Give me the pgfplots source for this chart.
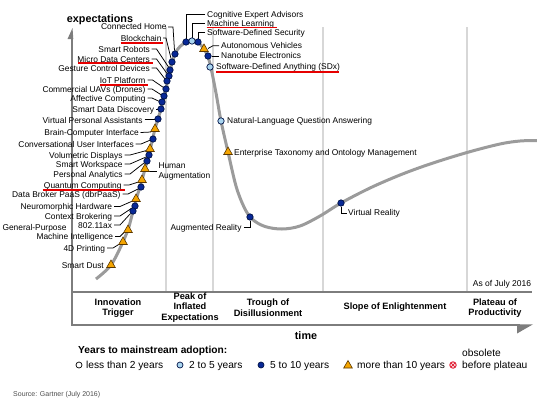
\documentclass[border=0pt]{standalone}
\usepackage{fontspec}
\setmainfont{Liberation Sans}
\usepackage{pgfplots}
\pgfplotsset{compat=1.18}
\definecolor{navy}{RGB}{8,40,150}
\definecolor{navyedge}{RGB}{0,18,70}
\definecolor{lightb}{RGB}{170,214,240}
\definecolor{orng}{RGB}{245,165,0}
\definecolor{orngedge}{RGB}{90,55,0}
\definecolor{curvegray}{RGB}{155,155,155}
\definecolor{divgray}{RGB}{215,215,215}
\definecolor{axgray}{RGB}{125,125,125}
\definecolor{ulred}{RGB}{230,0,0}
\definecolor{obsred}{RGB}{225,40,60}
\tikzset{
  lab/.style={inner sep=0pt, font=\fontsize{8.4}{9.5}\selectfont},
  leader/.style={draw=black, line width=0.75pt},
  ul/.style={draw=ulred, line width=1.8pt},
  phase/.style={inner sep=0pt, align=center, font=\fontsize{9.2}{10.6}\selectfont\bfseries},
  leg/.style={inner sep=0pt, font=\fontsize{10.2}{11}\selectfont},
}
\begin{document}
\begin{tikzpicture}
\begin{axis}[scale only axis, width=537pt, height=400pt,
  xmin=0, xmax=537, ymin=0, ymax=400, y dir=reverse,
  hide axis, clip=false]
\coordinate (bl) at (rel axis cs:0,0);
\coordinate (tr) at (rel axis cs:1,1);
% phase dividers
\draw[divgray, line width=1.5pt] (166,27) -- (166,292);
\draw[divgray, line width=1.5pt] (213,27) -- (213,292);
\draw[divgray, line width=1.5pt] (323,27) -- (323,292);
\draw[divgray, line width=1.5pt] (467,27) -- (467,292);
% axes / box
\draw[axgray, line width=1.5pt] (72,38) -- (72,325.7);
\fill[axgray] (72.5,28) -- (73.3,39) -- (67.5,39) -- cycle;
\draw[axgray, line width=1.5pt] (72,292) -- (532,292);
\draw[axgray, line width=1.5pt] (72,325) -- (520,325);
\fill[axgray] (517,324.3) -- (533,324.3) -- (517,333.5) -- cycle;
% hype curve
\addplot[curvegray, line width=3pt, smooth, tension=0.55] coordinates {
(96,279) (111,265) (123,242) (128,230) (136,200) (142,180) (150,150)
(155,129) (161,109) (166,89) (170,70) (175,54) (180,46.5) (186,42.3)
(192,40.8) (198,42.3) (204,49) (208,57) (211,68) (216,93) (221,121)
(228,152) (236,186) (244,207) (252,219) (265,226.5) (282,229) (300,226)
(320,216) (341,203) (370,188) (400,175) (430,164) (467,152.5) (500,144)
(520,141) (537,140.5)};
% leaders
\draw[leader] (168,27) -- (173,27) -- (174.5,50.5);
\draw[leader] (163,38) -- (166,38) -- (171,58.5);
\draw[leader] (151.5,49) -- (156.5,49) -- (168.5,67);
\draw[leader] (151.5,59) -- (156.5,59) -- (167,73.5);
\draw[leader] (151.5,68) -- (156.5,68) -- (165,79);
\draw[leader] (147.5,80) -- (152.5,80) -- (163.5,87.5);
\draw[leader] (147.5,89) -- (152,89) -- (161.5,95);
\draw[leader] (147.5,98) -- (152,98) -- (159.5,101.5);
\draw[leader] (156,109) -- (158,109);
\draw[leader] (144.5,119.5) -- (155,119.5);
\draw[leader] (140.5,132.5) -- (151,132);
\draw[leader] (135.5,144) -- (141,144) -- (150.5,140);
\draw[leader] (124.5,155) -- (130,155) -- (146.5,150.5);
\draw[leader] (124.5,164) -- (130,164) -- (146,157);
\draw[leader] (124.5,174) -- (130,174) -- (144,163);
\draw[leader] (148.5,171.5) -- (156.5,171.5);
\draw[leader] (123.5,185) -- (129,185) -- (138.5,182);
\draw[leader] (122.5,194) -- (128,194) -- (138,189);
\draw[leader] (114,206.5) -- (120,206.5) -- (132.5,201);
\draw[leader] (114,216) -- (120,216) -- (132,208);
\draw[leader] (114,225) -- (120,225) -- (130.5,213.5);
\draw[leader] (115,236.5) -- (120,236.5) -- (124.5,232);
\draw[leader] (107,248) -- (113,248) -- (119.5,244);
\draw[leader] (205,14) -- (186,14) -- (186,38.5);
\draw[leader] (205,23.3) -- (192,23.3) -- (192,37.5);
\draw[leader] (205,32.3) -- (198,32.3) -- (198,38.5);
\draw[leader] (208,48.5) -- (213,45.7) -- (219,45.7);
\draw[leader] (211.5,56) -- (219,56);
\draw[leader] (250,220.5) -- (250,227.3) -- (243.5,227.3);
\draw[leader] (341,206.5) -- (341,213) -- (346.5,213);
% markers: 5 to 10 years
\addplot[only marks, mark=*, mark size=3.2pt, mark options={fill=navy, draw=navyedge, line width=0.7pt}] coordinates {
(175,54) (172,62) (170,70) (169,76) (167,81) (166,89) (164,96) (162,102)
(161,109) (158,119) (153,139) (149,155) (147,161) (141,187) (135,206)
(133,211) (186,42) (198,42) (208,56) (250,217) (341,203)};
% markers: 2 to 5 years
\addplot[only marks, mark=*, mark size=3.2pt, mark options={fill=lightb, draw=navyedge, line width=0.7pt}] coordinates {
(192,41) (210,67) (221,121)};
% markers: more than 10 years
\addplot[only marks, mark=triangle*, mark size=5pt, mark options={fill=orng, draw=orngedge, line width=0.6pt}] coordinates {
(155,129) (150,149) (145,169) (142,180) (136,199) (128,230) (123,242)
(111,265) (204,49) (228,152)};
% left labels
\node[lab, anchor=base east] at (166.7,29.7) {Connected Home};
\node[lab, anchor=base east] at (161.7,41.3) {Blockchain};
\node[lab, anchor=base east] at (150,52.3) {Smart Robots};
\node[lab, anchor=base east] at (150,62.3) {Micro Data Centers};
\node[lab, anchor=base east] at (150,71.3) {Gesture Control Devices};
\node[lab, anchor=base east] at (145.7,83) {IoT Platform};
\node[lab, anchor=base east] at (145.7,92.3) {Commercial UAVs (Drones)};
\node[lab, anchor=base east] at (145.7,101) {Affective Computing};
\node[lab, anchor=base east] at (154.3,112) {Smart Data Discovery};
\node[lab, anchor=base east] at (142.7,123) {Virtual Personal Assistants};
\node[lab, anchor=base east] at (139,135.7) {Brain-Computer Interface};
\node[lab, anchor=base east] at (134,147) {Conversational User Interfaces};
\node[lab, anchor=base east] at (122.7,158.3) {Volumetric Displays};
\node[lab, anchor=base east] at (122.7,167.3) {Smart Workspace};
\node[lab, anchor=base east] at (122.7,177) {Personal Analytics};
\node[lab, anchor=base east] at (121.7,188) {Quantum Computing};
\node[lab, anchor=base east] at (120.7,197.3) {Data Broker PaaS (dbrPaaS)};
\node[lab, anchor=base east] at (112.3,209.7) {Neuromorphic Hardware};
\node[lab, anchor=base east] at (112.3,219) {Context Brokering};
\node[lab, anchor=base east] at (112.3,228) {802.11ax};
\node[lab, anchor=base east] at (66.7,230.3) {General-Purpose};
\node[lab, anchor=base east] at (113.3,239.7) {Machine Intelligence};
\node[lab, anchor=base east] at (105.3,251.3) {4D Printing};
\node[lab, anchor=base east] at (104,268) {Smart Dust};
\node[lab, anchor=base east] at (241.7,230.3) {Augmented Reality};
% right labels
\node[lab, anchor=base west] at (207,17) {Cognitive Expert Advisors};
\node[lab, anchor=base west] at (207,26.3) {Machine Learning};
\node[lab, anchor=base west] at (207,35.3) {Software-Defined Security};
\node[lab, anchor=base west] at (221,48.7) {Autonomous Vehicles};
\node[lab, anchor=base west] at (221,58) {Nanotube Electronics};
\node[lab, anchor=base west] at (216,69.7) {Software-Defined Anything (SDx)};
\node[lab, anchor=base west] at (227,123.7) {Natural-Language Question Answering};
\node[lab, anchor=base west] at (234,155.3) {Enterprise Taxonomy and Ontology Management};
\node[lab, anchor=base west] at (158.3,168.7) {Human};
\node[lab, anchor=base west] at (158.3,178) {Augmentation};
\node[lab, anchor=base west] at (348,215.7) {Virtual Reality};
% red underlines
\draw[ul] (120.7,42.7) -- (162.7,42.7);
\draw[ul] (78.3,63.3) -- (152.7,63.3);
\draw[ul] (100,84.7) -- (147.7,84.7);
\draw[ul] (42.7,190.3) -- (125,190.3);
\draw[ul] (206.7,27.5) -- (276.7,27.5);
\draw[ul] (216,72.3) -- (339.3,72.3);
% axis titles
\node[inner sep=0pt, anchor=base, font=\fontsize{10.8}{12}\selectfont\bfseries] at (100,22) {expectations};
\node[inner sep=0pt, anchor=base, font=\fontsize{10.8}{12}\selectfont\bfseries] at (306,339) {time};
\node[inner sep=0pt, anchor=base, font=\fontsize{8.5}{9}\selectfont] at (502,286) {As of July 2016};
% phase labels
\node[phase] at (118,308) {Innovation\\Trigger};
\node[phase] at (190,307.5) {Peak of\\Inflated\\Expectations};
\node[phase] at (268,308) {Trough of\\Disillusionment};
\node[phase] at (395,307.5) {Slope of Enlightenment};
\node[phase] at (495,308) {Plateau of\\Productivity};
% legend
\node[inner sep=0pt, anchor=base west, font=\fontsize{10.2}{11}\selectfont\bfseries] at (78,353) {Years to mainstream adoption:};
\addplot[only marks, mark=o, mark size=3pt, mark options={draw=black, line width=0.7pt}] coordinates {(79,365)};
\addplot[only marks, mark=*, mark size=3pt, mark options={fill=lightb, draw=navyedge, line width=0.7pt}] coordinates {(180,365)};
\addplot[only marks, mark=*, mark size=3pt, mark options={fill=navy, draw=navyedge, line width=0.7pt}] coordinates {(261,365)};
\addplot[only marks, mark=triangle*, mark size=5pt, mark options={fill=orng, draw=orngedge, line width=0.6pt}] coordinates {(348,365.5)};
\addplot[only marks, mark=otimes, mark size=3.2pt, mark options={draw=obsred, line width=1pt}] coordinates {(453,365)};
\node[leg, anchor=base west] at (86,368.7) {less than 2 years};
\node[leg, anchor=base west] at (189,368.7) {2 to 5 years};
\node[leg, anchor=base west] at (270,368.7) {5 to 10 years};
\node[leg, anchor=base west] at (357,368.7) {more than 10 years};
\node[leg, anchor=base west] at (462,356.7) {obsolete};
\node[leg, anchor=base west] at (462,368.7) {before plateau};
\node[inner sep=0pt, anchor=base west, text=black!70, font=\fontsize{7}{8}\selectfont] at (13,396.5) {Source: Gartner (July 2016)};
\end{axis}
\pgfresetboundingbox
\path[use as bounding box] (bl) rectangle (tr);
\end{tikzpicture}
\end{document}
